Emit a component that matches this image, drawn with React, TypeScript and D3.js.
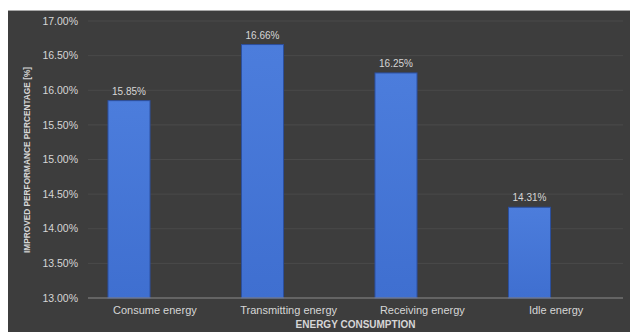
import React from "react";
import * as d3 from "d3";

const categories = ["Consume energy", "Transmitting energy", "Receiving energy", "Idle energy"];
const values = [15.85, 16.66, 16.25, 14.31];
const yTicks = [13, 13.5, 14, 14.5, 15, 15.5, 16, 16.5, 17];
const yTitle = "IMPROVED PERFORMANCE PERCENTAGE [%]";
const xTitle = "ENERGY CONSUMPTION";

const W = 630;
const H = 332;
const FONT = "'Liberation Sans', Arial, sans-serif";

export default function App() {
  const y = d3.scaleLinear().domain([13, 17]).range([298, 21]);
  // category label slots across the plotting area
  const xCat = d3.scaleBand<string>().domain(categories).range([88, 623]);
  // bar slots
  const xBar = d3
    .scaleBand<string>()
    .domain(categories)
    .range([62.25, 596.25])
    .paddingInner(0.685)
    .paddingOuter(0.3425);
  const fmt = (v: number) => v.toFixed(2) + "%";

  return (
    <div style={{ position: "absolute", left: 0, top: 0 }}>
      <svg width={W} height={H} style={{ display: "block" }}>
        <defs>
          <linearGradient id="barFill" x1="0" y1="0" x2="0" y2="1">
            <stop offset="0%" stopColor="#4c7ddc" />
            <stop offset="100%" stopColor="#3f6fd0" />
          </linearGradient>
        </defs>
        <rect x={0} y={0} width={W} height={H} fill="#ffffff" />
        <rect x={8} y={11} width={W - 8} height={H - 11} fill="#3d3d3d" />
        <line x1={8} x2={W} y1={10.5} y2={10.5} stroke="#a8a8a8" strokeWidth={1} />

        {/* horizontal gridlines and tick labels */}
        {yTicks.map((t) => (
          <g key={t}>
            {t !== 13 && (
              <line x1={88} x2={623} y1={y(t)} y2={y(t)} stroke="#4a4a4a" strokeWidth={1} />
            )}
            <text
              x={78}
              y={y(t)}
              dy="0.35em"
              textAnchor="end"
              fontFamily={FONT}
              fontSize={10.5}
              fill="#d6d6d6"
            >
              {fmt(t)}
            </text>
          </g>
        ))}

        {/* bars */}
        {categories.map((c, i) => (
          <g key={c}>
            <rect
              x={xBar(c)!}
              y={y(values[i])}
              width={xBar.bandwidth()}
              height={y(13) - y(values[i])}
              fill="url(#barFill)"
              stroke="#2c4f9e"
              strokeWidth={1}
            />
            <text
              x={xBar(c)! + xBar.bandwidth() / 2}
              y={y(values[i]) - 6}
              textAnchor="middle"
              fontFamily={FONT}
              fontSize={10}
              fill="#d6d6d6"
            >
              {fmt(values[i])}
            </text>
          </g>
        ))}

        {/* baseline */}
        <line x1={88} x2={623} y1={y(13)} y2={y(13)} stroke="#8c8c8c" strokeWidth={1} />

        {/* category labels */}
        {categories.map((c) => (
          <text
            key={c}
            x={xCat(c)! + xCat.bandwidth() / 2}
            y={314}
            textAnchor="middle"
            fontFamily={FONT}
            fontSize={11}
            fill="#d6d6d6"
          >
            {c}
          </text>
        ))}

        {/* axis titles */}
        <text
          x={355.5}
          y={328}
          textAnchor="middle"
          fontFamily={FONT}
          fontSize={10}
          fontWeight="bold"
          fill="#d6d6d6"
        >
          {xTitle}
        </text>
        <text
          transform="translate(30,160) rotate(-90)"
          textAnchor="middle"
          fontFamily={FONT}
          fontSize={8.3}
          fontWeight="bold"
          fill="#d6d6d6"
        >
          {yTitle}
        </text>
      </svg>
    </div>
  );
}
